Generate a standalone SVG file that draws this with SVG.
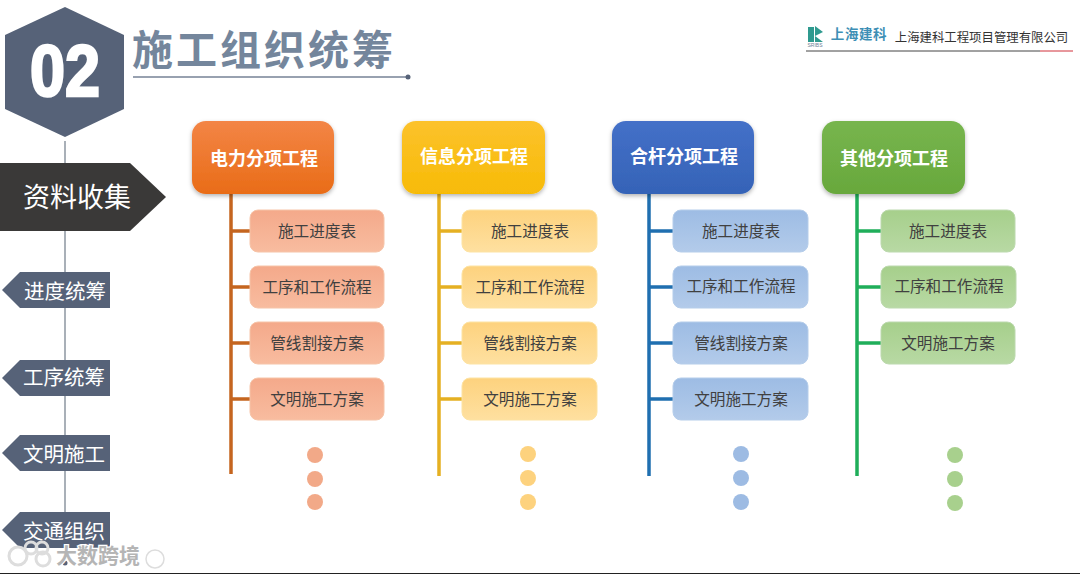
<svg xmlns="http://www.w3.org/2000/svg" width="1080" height="574" viewBox="0 0 1080 574">
<style>
text{font-family:"Noto Sans CJK SC","Liberation Sans",sans-serif;text-anchor:middle}
.head{font-size:18px;font-weight:700;fill:#fff}
.item{font-size:15.6px;fill:#404040}
.tag{font-size:20.5px;fill:#fff}
.nav{fill:#566278}
.o{stroke:#c5651f}.y{stroke:#e5b022}.b{stroke:#1f6fb0}.g{stroke:#1fae5a}
.tr{stroke-width:3.5;fill:none}
.bo{fill:url(#lo);stroke:#f6c4a8}.by{fill:url(#ly);stroke:#fde3a3}.bb{fill:url(#lb);stroke:#b5cdea}.bg{fill:url(#lg);stroke:#bcd9ae}
.do{fill:#f2a988}.dy{fill:#fdd27e}.db{fill:#9dbbe3}.dg{fill:#a8d08d}
</style>
<defs>
<linearGradient id="ho" x1="0" y1="0" x2="0" y2="1"><stop offset="0" stop-color="#f38546"/><stop offset="1" stop-color="#e96c17"/></linearGradient>
<linearGradient id="hy" x1="0" y1="0" x2="0" y2="1"><stop offset="0" stop-color="#fcc22c"/><stop offset="1" stop-color="#f7bb06"/></linearGradient>
<linearGradient id="hb" x1="0" y1="0" x2="0" y2="1"><stop offset="0" stop-color="#4470c8"/><stop offset="1" stop-color="#3563b7"/></linearGradient>
<linearGradient id="hg" x1="0" y1="0" x2="0" y2="1"><stop offset="0" stop-color="#77b54e"/><stop offset="1" stop-color="#68a83c"/></linearGradient>
<linearGradient id="lo" x1="0" y1="0" x2="0" y2="1"><stop offset="0" stop-color="#f4a98a"/><stop offset="1" stop-color="#f8bc9f"/></linearGradient>
<linearGradient id="ly" x1="0" y1="0" x2="0" y2="1"><stop offset="0" stop-color="#fdd27e"/><stop offset="1" stop-color="#fee0a0"/></linearGradient>
<linearGradient id="lb" x1="0" y1="0" x2="0" y2="1"><stop offset="0" stop-color="#9dbce4"/><stop offset="1" stop-color="#b3cbea"/></linearGradient>
<linearGradient id="lg" x1="0" y1="0" x2="0" y2="1"><stop offset="0" stop-color="#a6cf8b"/><stop offset="1" stop-color="#b8d9a4"/></linearGradient>
<filter id="sh" x="-10%" y="-10%" width="120%" height="125%"><feDropShadow dx="0" dy="2" stdDeviation="2" flood-color="#000" flood-opacity=".3"/></filter>
</defs>
<rect width="1080" height="574" fill="#fff"/>

<g id="connectors">
<line x1="65" y1="141" x2="65" y2="560" stroke="#a9b0b8" stroke-width="2"/>
<line x1="133" y1="77" x2="408" y2="77" stroke="#98a1b0" stroke-width="2"/>
<g class="tr o"><path d="M231 194V474M231 231H250M231 287H250M231 343H250M231 399H250"/></g>
<g class="tr y"><path d="M439 194V476M439 231H462M439 287H462M439 343H462M439 399H462"/></g>
<g class="tr b"><path d="M649 194V476M649 231H673M649 287H673M649 343H673M649 399H673"/></g>
<g class="tr g"><path d="M857 194V476M857 231H881M857 287H881M857 343H881"/></g>
</g>

<g id="badge">
<polygon points="65,7 124,35 124,109 65,137 5,109 5,35" fill="#566278"/>
<text transform="translate(65 96) scale(.9 1.03)" font-size="70" font-weight="700" fill="#fff" stroke="#fff" stroke-width="2.5" style="font-family:'Liberation Sans',sans-serif">02</text>
</g>
<g id="title">
<text x="264" y="65" font-size="41" font-weight="700" fill="#74869c" letter-spacing="3">施工组织统筹</text>
<circle cx="408" cy="77" r="2.5" fill="#566278"/>
</g>
<g id="logo">
<path d="M808 27h6v15h-6zM815 26l8 6-8 4 8 6h-8z" fill="#2f9a8f"/>
<text x="815" y="47" font-size="5" fill="#6b7f95" style="font-family:'Liberation Sans',sans-serif">SRIBS</text>
<text x="859" y="39" font-size="13.5" fill="#3d8fb5" font-weight="700" letter-spacing=".6">上海建科</text>
<text x="981.5" y="42" font-size="12.4" fill="#333">上海建科工程项目管理有限公司</text>
<line x1="806" y1="51" x2="1040" y2="51" stroke="#444" stroke-width="1"/>
<line x1="1040" y1="51" x2="1073" y2="51" stroke="#d0303a" stroke-width="1"/>
</g>

<g id="nav1"><polygon points="0,163 130,163 166,197 130,231 0,231" fill="#3a3938"/><text x="77" y="207" font-size="27" fill="#fff">资料收集</text></g>
<g id="nav2"><polygon class="nav" points="2,290 20,272 110,272 110,308 20,308"/><text class="tag" x="65" y="299">进度统筹</text></g>
<g id="nav3"><polygon class="nav" points="2,378 20,360 110,360 110,396 20,396"/><text class="tag" x="64" y="385">工序统筹</text></g>
<g id="nav4"><polygon class="nav" points="2,453 20,435 110,435 110,471 20,471"/><text class="tag" x="64" y="462">文明施工</text></g>
<g id="nav5"><polygon class="nav" points="2,530 20,512 110,512 110,548 20,548"/><text class="tag" x="64" y="539">交通组织</text><circle cx="65" cy="563" r="2.5" fill="#566278"/></g>

<g id="col1">
<rect x="192" y="121" width="142" height="73" rx="14" fill="url(#ho)" filter="url(#sh)"/>
<text class="head" x="264" y="165">电力分项工程</text>
<rect class="bo" x="250" y="210" width="134" height="42" rx="8"/><text class="item" x="317" y="237">施工进度表</text>
<rect class="bo" x="250" y="266" width="134" height="42" rx="8"/><text class="item" x="317" y="293">工序和工作流程</text>
<rect class="bo" x="250" y="322" width="134" height="42" rx="8"/><text class="item" x="317" y="349">管线割接方案</text>
<rect class="bo" x="250" y="378" width="134" height="42" rx="8"/><text class="item" x="317" y="405">文明施工方案</text>
<circle class="do" cx="315" cy="455" r="8"/><circle class="do" cx="315" cy="479" r="8"/><circle class="do" cx="315" cy="502" r="8"/>
</g>
<g id="col2">
<rect x="402" y="121" width="143" height="73" rx="14" fill="url(#hy)" filter="url(#sh)"/>
<text class="head" x="474" y="163">信息分项工程</text>
<rect class="by" x="462" y="210" width="135" height="42" rx="8"/><text class="item" x="530" y="237">施工进度表</text>
<rect class="by" x="462" y="266" width="135" height="42" rx="8"/><text class="item" x="530" y="293">工序和工作流程</text>
<rect class="by" x="462" y="322" width="135" height="42" rx="8"/><text class="item" x="530" y="349">管线割接方案</text>
<rect class="by" x="462" y="378" width="135" height="42" rx="8"/><text class="item" x="530" y="405">文明施工方案</text>
<circle class="dy" cx="528" cy="454" r="8"/><circle class="dy" cx="528" cy="478" r="8"/><circle class="dy" cx="528" cy="502" r="8"/>
</g>
<g id="col3">
<rect x="612" y="121" width="142" height="73" rx="14" fill="url(#hb)" filter="url(#sh)"/>
<text class="head" x="684" y="163">合杆分项工程</text>
<rect class="bb" x="673" y="210" width="135" height="42" rx="8"/><text class="item" x="741" y="237">施工进度表</text>
<rect class="bb" x="673" y="266" width="135" height="42" rx="8"/><text class="item" x="741" y="292">工序和工作流程</text>
<rect class="bb" x="673" y="322" width="135" height="42" rx="8"/><text class="item" x="741" y="349">管线割接方案</text>
<rect class="bb" x="673" y="378" width="135" height="42" rx="8"/><text class="item" x="741" y="405">文明施工方案</text>
<circle class="db" cx="741" cy="454" r="8"/><circle class="db" cx="741" cy="478" r="8"/><circle class="db" cx="741" cy="502" r="8"/>
</g>
<g id="col4">
<rect x="822" y="121" width="143" height="73" rx="14" fill="url(#hg)" filter="url(#sh)"/>
<text class="head" x="894" y="165">其他分项工程</text>
<rect class="bg" x="881" y="210" width="134" height="42" rx="8"/><text class="item" x="948" y="237">施工进度表</text>
<rect class="bg" x="881" y="266" width="135" height="42" rx="8"/><text class="item" x="949" y="292">工序和工作流程</text>
<rect class="bg" x="881" y="322" width="134" height="42" rx="8"/><text class="item" x="948" y="349">文明施工方案</text>
<circle class="dg" cx="955" cy="455" r="8"/><circle class="dg" cx="955" cy="479" r="8"/><circle class="dg" cx="955" cy="503" r="8"/>
</g>

<g id="watermark">
<g fill="none" stroke="#ddd" stroke-width="3">
<circle cx="18" cy="556" r="9"/><circle cx="31" cy="548" r="6"/><circle cx="42" cy="548" r="6"/><circle cx="43" cy="559" r="7"/>
<circle cx="155" cy="559" r="9" stroke-width="1.5"/>
</g>
<text x="98" y="563" font-size="21" font-weight="700" fill="#b5b5b5" stroke="#fff" stroke-width="2.5" paint-order="stroke">大数跨境</text>
</g>
<rect id="base" x="0" y="573" width="1080" height="1" fill="#222"/>
</svg>
